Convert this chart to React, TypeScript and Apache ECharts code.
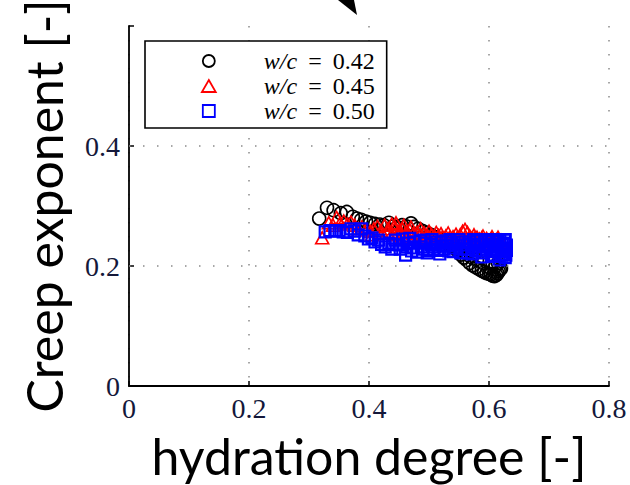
import React, { useEffect, useRef } from 'react';
import * as echarts from 'echarts';

const seriesNames = ['w/c = 0.42', 'w/c = 0.45', 'w/c = 0.50'];
const seriesColors = ['#000000', '#ff0000', '#0000ff'];
const xTickValues = [0, 0.2, 0.4, 0.6, 0.8];
const yTickLabels = [0, 0.2, 0.4];
const horizontalGridValues = [0.2, 0.4];

const wc042: number[][] = [
  [0.317, 0.279], [0.330, 0.297], [0.341, 0.293], [0.353, 0.288], [0.363, 0.290],
  [0.373, 0.282], [0.380, 0.279], [0.387, 0.277], [0.395, 0.274], [0.402, 0.272],
  [0.410, 0.270], [0.418, 0.269], [0.425, 0.268], [0.433, 0.272], [0.440, 0.266],
  [0.447, 0.265], [0.455, 0.268], [0.462, 0.266], [0.470, 0.271], [0.475, 0.265],
  [0.482, 0.262], [0.490, 0.258], [0.497, 0.255], [0.503, 0.252], [0.510, 0.248],
  [0.517, 0.245], [0.523, 0.241], [0.530, 0.238], [0.536, 0.234], [0.542, 0.230],
  [0.548, 0.225], [0.553, 0.219], [0.558, 0.214], [0.563, 0.210], [0.568, 0.205],
  [0.573, 0.201], [0.578, 0.198], [0.583, 0.195], [0.588, 0.192], [0.592, 0.190],
  [0.596, 0.188], [0.600, 0.187], [0.603, 0.186], [0.606, 0.184], [0.609, 0.183],
  [0.612, 0.185], [0.614, 0.188], [0.616, 0.191], [0.618, 0.194], [0.620, 0.196],
  [0.611, 0.200], [0.606, 0.205], [0.600, 0.198], [0.590, 0.205], [0.580, 0.210],
  [0.570, 0.215], [0.560, 0.222], [0.550, 0.228], [0.540, 0.235], [0.615, 0.205],
];

const wc045: number[][] = [
  [0.322, 0.247], [0.333, 0.272], [0.340, 0.268], [0.346, 0.281], [0.352, 0.272],
  [0.358, 0.275], [0.364, 0.270], [0.370, 0.273], [0.376, 0.268], [0.382, 0.262],
  [0.388, 0.265], [0.395, 0.260], [0.402, 0.258], [0.408, 0.262], [0.414, 0.266],
  [0.420, 0.259], [0.426, 0.268], [0.432, 0.262], [0.438, 0.270], [0.444, 0.264],
  [0.450, 0.258], [0.456, 0.262], [0.462, 0.256], [0.468, 0.260], [0.474, 0.254],
  [0.480, 0.256], [0.486, 0.252], [0.492, 0.255], [0.498, 0.250], [0.504, 0.253],
  [0.510, 0.249], [0.516, 0.251], [0.522, 0.248], [0.528, 0.250], [0.534, 0.247],
  [0.540, 0.249], [0.546, 0.246], [0.552, 0.252], [0.556, 0.258], [0.560, 0.261],
  [0.564, 0.256], [0.568, 0.250], [0.572, 0.247], [0.576, 0.246], [0.580, 0.248],
  [0.584, 0.245], [0.588, 0.247], [0.592, 0.244], [0.596, 0.246], [0.600, 0.243],
  [0.604, 0.245], [0.608, 0.242], [0.612, 0.244], [0.616, 0.241], [0.620, 0.243],
  [0.405, 0.252], [0.418, 0.254], [0.430, 0.256], [0.442, 0.252], [0.455, 0.250],
  [0.465, 0.248], [0.478, 0.250], [0.490, 0.246], [0.502, 0.247], [0.514, 0.245],
  [0.526, 0.244], [0.538, 0.244], [0.550, 0.243], [0.562, 0.246], [0.574, 0.242],
  [0.586, 0.241], [0.598, 0.240], [0.610, 0.239], [0.618, 0.240], [0.445, 0.272],
  [0.458, 0.268], [0.470, 0.265], [0.486, 0.262], [0.500, 0.258], [0.512, 0.256],
  [0.520, 0.254], [0.532, 0.255], [0.545, 0.253], [0.575, 0.252], [0.590, 0.250],
  [0.605, 0.249], [0.615, 0.248],
];

const wc050: number[][] = [
  [0.327, 0.257], [0.335, 0.259], [0.343, 0.258], [0.350, 0.259], [0.357, 0.257],
  [0.364, 0.256], [0.370, 0.262], [0.376, 0.258], [0.382, 0.252], [0.388, 0.262],
  [0.393, 0.250], [0.399, 0.245], [0.405, 0.247], [0.410, 0.240], [0.416, 0.243],
  [0.421, 0.236], [0.427, 0.232], [0.433, 0.238], [0.438, 0.228], [0.444, 0.243],
  [0.450, 0.235], [0.456, 0.245], [0.461, 0.218], [0.466, 0.238], [0.471, 0.225],
  [0.476, 0.240], [0.481, 0.223], [0.487, 0.232], [0.492, 0.243], [0.497, 0.222],
  [0.503, 0.236], [0.508, 0.228], [0.513, 0.240], [0.518, 0.220], [0.523, 0.233],
  [0.528, 0.242], [0.533, 0.225], [0.538, 0.238], [0.543, 0.230], [0.548, 0.240],
  [0.553, 0.222], [0.558, 0.235], [0.563, 0.228], [0.568, 0.240], [0.572, 0.220],
  [0.576, 0.232], [0.580, 0.242], [0.584, 0.225], [0.588, 0.215], [0.592, 0.236],
  [0.596, 0.228], [0.600, 0.242], [0.604, 0.218], [0.608, 0.232], [0.611, 0.224],
  [0.614, 0.240], [0.617, 0.210], [0.620, 0.228], [0.622, 0.236], [0.624, 0.220],
  [0.626, 0.243], [0.627, 0.214], [0.628, 0.230], [0.440, 0.236], [0.452, 0.228],
  [0.463, 0.232], [0.468, 0.246], [0.474, 0.230], [0.485, 0.242], [0.490, 0.228],
  [0.495, 0.238], [0.500, 0.226], [0.505, 0.244], [0.510, 0.232], [0.515, 0.226],
  [0.520, 0.240], [0.525, 0.228], [0.530, 0.234], [0.535, 0.244], [0.540, 0.224],
  [0.545, 0.235], [0.550, 0.244], [0.555, 0.228], [0.560, 0.240], [0.565, 0.222],
  [0.570, 0.236], [0.574, 0.244], [0.578, 0.226], [0.582, 0.236], [0.586, 0.244],
  [0.590, 0.222], [0.594, 0.240], [0.598, 0.232], [0.602, 0.226], [0.606, 0.244],
  [0.609, 0.216], [0.612, 0.236], [0.615, 0.226], [0.618, 0.242], [0.621, 0.218],
  [0.623, 0.230], [0.625, 0.238], [0.626, 0.224], [0.627, 0.244], [0.628, 0.218],
  [0.629, 0.235], [0.629, 0.226],
];

const seriesData = [wc042, wc045, wc050];

const CIRCLE_ICON = 'path://M6,0 A6,6 0 1 1 6,12 A6,6 0 1 1 6,0 Z';
const TRIANGLE_ICON = 'path://M6,0 L12,10.4 L0,10.4 Z';
const SQUARE_ICON = 'path://M0,0 L10,0 L10,10 L0,10 Z';
const legendIcons = [CIRCLE_ICON, TRIANGLE_ICON, SQUARE_ICON];
const symbols = ['circle', 'triangle', 'rect'];
const symbolSizes: (number | number[])[] = [13, [13, 12], 11];

export default function App() {
  const ref = useRef<HTMLDivElement>(null);

  useEffect(() => {
    if (!ref.current) return;
    const chart = echarts.init(ref.current, undefined, { renderer: 'svg' });
    const serif = 'Liberation Serif';
    const sans = 'Lato';

    const option: any = {
      animation: false,
      backgroundColor: '#ffffff',
      grid: {
        left: 129,
        top: 26,
        right: 21,
        bottom: 99,
        containLabel: false,
        outerBoundsMode: 'none',
      },
      xAxis: {
        type: 'value',
        min: 0,
        max: 0.8,
        interval: 0.2,
        name: 'hydration degree [-]',
        nameLocation: 'middle',
        nameGap: 45,
        nameTextStyle: { fontFamily: sans, fontSize: 50, color: '#000' },
        axisLine: { show: true, lineStyle: { color: '#000', width: 1.8 } },
        axisTick: { show: true, inside: true, length: 5, lineStyle: { color: '#000', width: 1.5 } },
        axisLabel: {
          fontFamily: serif,
          fontSize: 28,
          color: '#14183a',
          margin: 8,
          formatter: (v: number) => {
            const r = Math.round(v * 10) / 10;
            return xTickValues.includes(r) ? String(r) : '';
          },
        },
        splitLine: {
          show: true,
          lineStyle: { color: '#8a8a8a', width: 1.5, type: [1.5, 12.5] },
        },
      },
      yAxis: {
        type: 'value',
        min: 0,
        max: 0.6,
        interval: 0.2,
        name: 'Creep exponent [-]',
        nameLocation: 'middle',
        nameRotate: 90,
        nameGap: 60,
        nameTextStyle: { fontFamily: sans, fontSize: 50, color: '#000' },
        axisLine: { show: true, lineStyle: { color: '#000', width: 1.8 } },
        axisTick: { show: true, inside: true, length: 5, lineStyle: { color: '#000', width: 1.5 } },
        axisLabel: {
          fontFamily: serif,
          fontSize: 28,
          color: '#14183a',
          margin: 9,
          formatter: (v: number) => {
            const r = Math.round(v * 10) / 10;
            return yTickLabels.includes(r) ? String(r) : '';
          },
        },
        splitLine: { show: false },
      },
      legend: {
        orient: 'vertical',
        left: 145,
        top: 41,
        padding: [8, 12, 5, 56],
        itemGap: 1,
        itemWidth: 14,
        itemHeight: 12,
        backgroundColor: '#ffffff',
        borderColor: '#000000',
        borderWidth: 1.6,
        borderRadius: 0,
        z: 10,
        selectedMode: false,
        formatter: (name: string) => '{sp| }{i|w/c}{s| }={s| }' + name.slice(6),
        textStyle: {
          fontFamily: serif,
          fontSize: 24,
          lineHeight: 24,
          color: '#000',
          rich: {
            sp: { width: 43, fontSize: 24, lineHeight: 24 },
            s: { width: 11, fontSize: 24, lineHeight: 24 },
            i: { fontFamily: serif, fontStyle: 'italic', fontSize: 24, lineHeight: 24, color: '#000' },
          },
        },
        data: seriesNames.map((n, i) => ({
          name: n,
          icon: legendIcons[i],
          itemStyle: {
            color: 'rgba(0,0,0,0)',
            borderColor: seriesColors[i],
            borderWidth: 1.8,
          },
        })),
      },
      graphic: [
        {
          type: 'polygon',
          shape: { points: [[338, 0], [354, 0], [357, 15]] },
          style: { fill: '#000' },
          z: 20,
        },
      ],
      series: [
        {
          name: 'grid',
          type: 'scatter',
          data: [],
          z: 0,
          silent: true,
          markLine: {
            silent: true,
            symbol: ['none', 'none'],
            label: { show: false },
            lineStyle: { color: '#8a8a8a', width: 1.5, type: [1.5, 12.5] },
            data: horizontalGridValues.map((v) => ({ yAxis: v })),
          },
        },
        ...seriesNames.map((n, i) => ({
          name: n,
          type: 'scatter',
          data: seriesData[i],
          symbol: symbols[i],
          symbolSize: symbolSizes[i],
          z: 2 + i,
          itemStyle: {
            color: 'rgba(0,0,0,0)',
            borderColor: seriesColors[i],
            borderWidth: i === 2 ? 2.2 : 1.6,
            opacity: 1,
          },
          emphasis: { disabled: true },
        })),
      ],
    };

    chart.setOption(option);
    return () => {
      chart.dispose();
    };
  }, []);

  return (
    <div
      ref={ref}
      style={{ position: 'fixed', left: 0, top: 0, width: 630, height: 485, background: '#fff' }}
    />
  );
}
